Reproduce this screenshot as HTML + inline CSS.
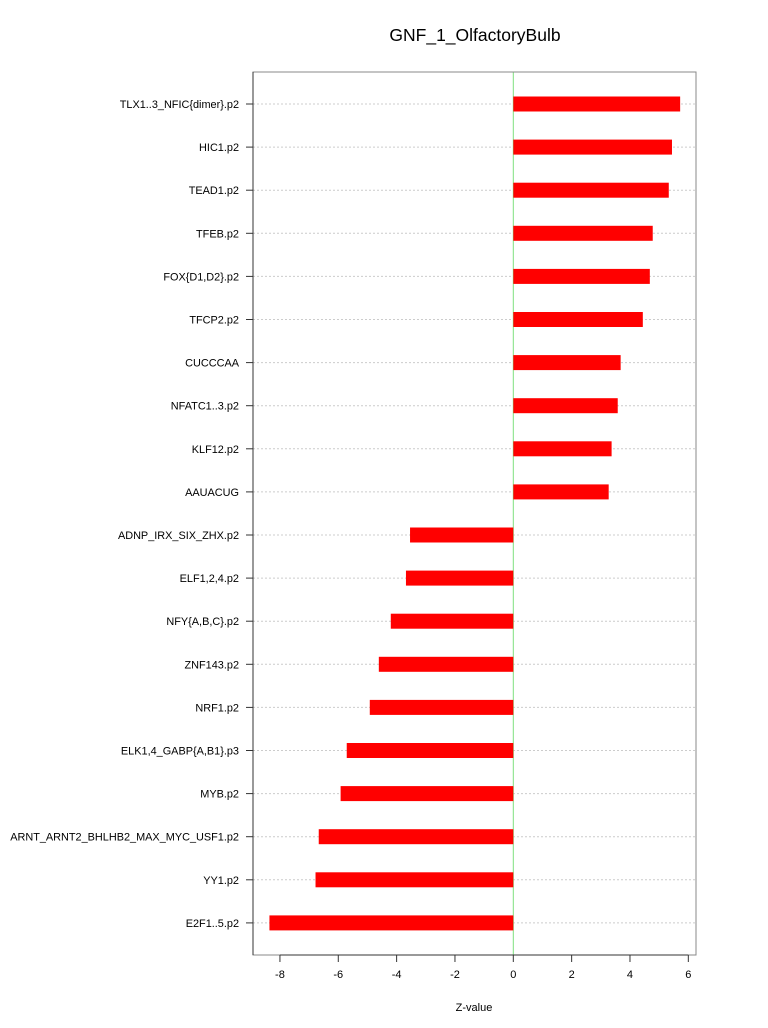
<!DOCTYPE html>
<html><head><meta charset="utf-8"><style>
html,body{margin:0;padding:0;background:#fff}
svg{display:block;font-family:"Liberation Sans",sans-serif}
</style></head><body>
<svg id="chart" width="768" height="1028">
<text x="475" y="41" font-size="17.5" text-anchor="middle">GNF_1_OlfactoryBulb</text>
<text x="474" y="1011" font-size="11" text-anchor="middle">Z-value</text>
<g id="plot"></g>
</svg>
<script>
const categories=["TLX1..3_NFIC{dimer}.p2","HIC1.p2","TEAD1.p2","TFEB.p2","FOX{D1,D2}.p2","TFCP2.p2","CUCCCAA","NFATC1..3.p2","KLF12.p2","AAUACUG","ADNP_IRX_SIX_ZHX.p2","ELF1,2,4.p2","NFY{A,B,C}.p2","ZNF143.p2","NRF1.p2","ELK1,4_GABP{A,B1}.p3","MYB.p2","ARNT_ARNT2_BHLHB2_MAX_MYC_USF1.p2","YY1.p2","E2F1..5.p2"];
const values=[5.72,5.44,5.33,4.78,4.68,4.44,3.68,3.58,3.37,3.27,-3.54,-3.68,-4.2,-4.61,-4.92,-5.71,-5.92,-6.67,-6.78,-8.36];
const xTicks=[-8,-6,-4,-2,0,2,4,6];
const NS="http://www.w3.org/2000/svg";
const L=253,R=696,T=72,B=955;
const x=v=>513.3+v*29.17;
const y=i=>104+i*43.1;
const g=document.getElementById('plot');
function mk(t,a){const e=document.createElementNS(NS,t);for(const k in a)e.setAttribute(k,a[k]);g.appendChild(e);return e;}
categories.forEach((c,i)=>{
 const gl=mk('line',{x1:L,x2:R,y1:y(i),y2:y(i),stroke:'#ccc','stroke-dasharray':'2,2'});
 
 
});
const zl=mk('line',{x1:x(0),x2:x(0),y1:T,y2:B,stroke:'#7fe07f','stroke-width':1});


categories.forEach((c,i)=>{
 const v=values[i];
 const r=mk('rect',{x:Math.min(x(0),x(v)),y:y(i)-7.5,width:Math.abs(x(v)-x(0)),height:15,fill:'#ff0000'});
 
 
 const tk=mk('line',{x1:246,x2:L,y1:y(i),y2:y(i),stroke:'#333'});
 
 
 const t=mk('text',{x:239,y:y(i)+4,'font-size':'10.9','text-anchor':'end'});
 t.textContent=c;
 
 
});
const box=mk('rect',{x:L,y:T,width:R-L,height:B-T,fill:'none',stroke:'#888'});


const ya=mk('line',{x1:L,x2:L,y1:T,y2:B,stroke:'#333'});


const xa=mk('line',{x1:x(-8),x2:x(6),y1:B,y2:B,stroke:'#333'});


xTicks.forEach(v=>{
 const tk=mk('line',{x1:x(v),x2:x(v),y1:B,y2:B+7,stroke:'#333'});
 
 
 const t=mk('text',{x:x(v),y:B+23,'font-size':'11','text-anchor':'middle'});
 t.textContent=v;
 
 
});
</script>
</body></html>
